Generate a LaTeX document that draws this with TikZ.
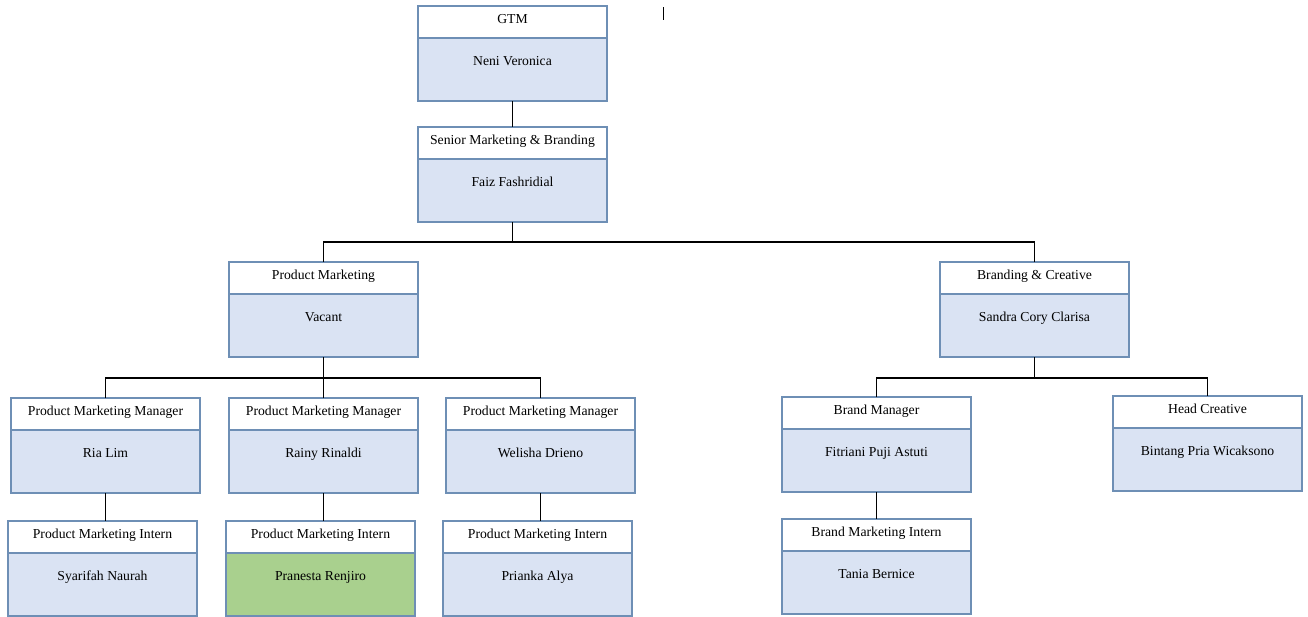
\documentclass[tikz,border=0pt]{standalone}
\usepackage{fontspec}
\setmainfont{Liberation Serif}
\usetikzlibrary{calc}
\definecolor{bc}{HTML}{6E8FB5}
\definecolor{bfill}{HTML}{DAE3F3}
\definecolor{gfill}{HTML}{A9D08E}
\tikzset{
  hdr/.style={draw=bc, fill=white, line width=1.3pt, minimum width=189pt, minimum height=32pt, anchor=north west, inner sep=0pt, outer sep=0pt},
  bdy/.style={draw=bc, line width=1.3pt, minimum width=189pt, minimum height=63pt, anchor=north west, inner sep=0pt, outer sep=0pt},
  ttl/.style={anchor=base, inner sep=0pt, font=\fontsize{13.7}{16}\selectfont},
  conn/.style={draw=black, line width=1.1pt},
}
\newcommand\obox[6]{%
  \node[bdy, fill=#6] (#1b) at (#2,#3+32) {};
  \node[hdr] (#1h) at (#2,#3) {};
  \node[ttl] (#1t) at ($(#1h.north)+(0,17)$) {#4};
  \node[ttl] (#1n) at ($(#1b.north)+(0,27)$) {#5};
}
\begin{document}
\begin{tikzpicture}[x=1pt,y=-1pt]
\useasboundingbox[fill=white] (0,0) rectangle (1308,616);
\coordinate (bus1) at (511,242);
\coordinate (bus2) at (320,378);
\coordinate (bus3) at (1032,378);
\obox{gtm}{418}{6}{GTM}{Neni Veronica}{bfill}
\obox{sen}{418}{127}{Senior Marketing \& Branding}{Faiz Fashridial}{bfill}
\obox{pm}{229}{262}{Product Marketing}{Vacant}{bfill}
\obox{bcr}{940}{262}{Branding \& Creative}{Sandra Cory Clarisa}{bfill}
\obox{pa}{11}{398}{Product Marketing Manager}{Ria Lim}{bfill}
\obox{pb}{229}{398}{Product Marketing Manager}{Rainy Rinaldi}{bfill}
\obox{pc}{446}{398}{Product Marketing Manager}{Welisha Drieno}{bfill}
\obox{ia}{8}{521}{Product Marketing Intern}{Syarifah Naurah}{bfill}
\obox{ib}{226}{521}{Product Marketing Intern}{Pranesta Renjiro}{gfill}
\obox{ic}{443}{521}{Product Marketing Intern}{Prianka Alya}{bfill}
\obox{bm}{782}{397}{Brand Manager}{Fitriani Puji Astuti}{bfill}
\obox{hc}{1113}{396}{Head Creative}{Bintang Pria Wicaksono}{bfill}
\obox{bi}{782}{519}{Brand Marketing Intern}{Tania Bernice}{bfill}
% connectors
\draw[conn] (gtmb.south) -- (senh.north);
\draw[conn] (senb.south) -- (senb.south |- bus1);
\draw[conn] (pmh.north) |- (bus1) -| (bcrh.north);
\draw[conn] (pmb.south) -- (pmb.south |- bus2);
\draw[conn] (pah.north) |- (bus2) -| (pch.north);
\draw[conn] (pbh.north) -- (pbh.north |- bus2);
\draw[conn] (bcrb.south) -- (bcrb.south |- bus3);
\draw[conn] (bmh.north) |- (bus3) -| (hch.north);
\draw[conn] (pab.south) -- (iah.north -| pab.south);
\draw[conn] (pbb.south) -- (ibh.north -| pbb.south);
\draw[conn] (pcb.south) -- (ich.north -| pcb.south);
\draw[conn] (bmb.south) -- (bih.north -| bmb.south);
% text cursor
\coordinate (cur1) at (663,7);
\coordinate (cur2) at (663,20);
\draw[line width=1pt] (cur1) -- (cur2);
\end{tikzpicture}
\end{document}
